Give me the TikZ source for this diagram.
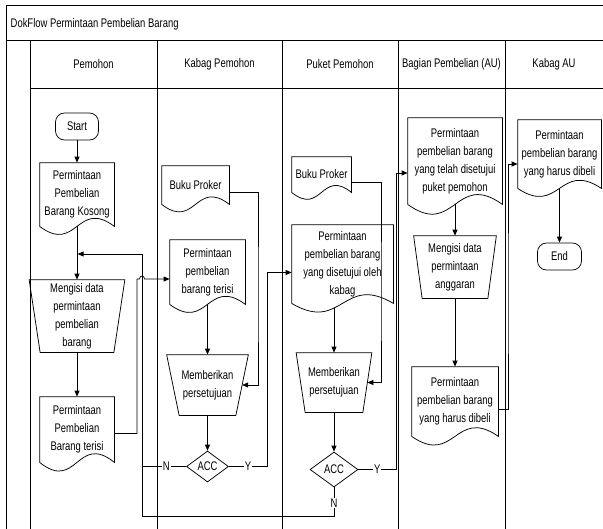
\documentclass[tikz,border=0pt]{standalone}
\usepackage{fontspec}
\setmainfont{Liberation Sans}[FakeStretch=0.755]
\usetikzlibrary{arrows.meta,shapes.geometric,calc}
\newcommand\docbox[7]{%
  \node[doctext, minimum width={#4-#2}, minimum height={#5-#3}] (#1) at ({(#2+#4)/2},{(#3+#5)/2}) {#7};
  \draw[shapeline] (#1.south east) -- (#1.north east) -- (#1.north west) -- (#1.south west)
    .. controls ($(#1.south)+(0,#6)$) and ($(#1.south)+(0,-#6)$) .. (#1.south east) -- cycle;}
\newcommand\mantz[7]{%
  \node[doctext, minimum width={#4}, minimum height={#6-#3}] (#1) at (#2,{(#3+#6)/2}) {#7};
  \draw[shapeline] (#1.north west) -- (#1.north east) -- ([xshift={-(#4-#5)/2}]#1.south east)
    -- ([xshift={(#4-#5)/2}]#1.south west) -- cycle;
  \coordinate (#1-r) at ([xshift={-(#4-#5)/4}]#1.east);}
\begin{document}
\begin{tikzpicture}[x=1pt,y=-1pt, line width=0.75pt,
  font=\fontsize{12.5}{18}\selectfont,
  shapeline/.style={line width=0.75pt},
  arr/.style={-{Triangle[length=6pt,width=5pt]}},
  doctext/.style={inner sep=0pt, align=center},
  term/.style={draw, rounded corners=9pt, inner sep=0pt},
  dec/.style={draw, diamond, inner sep=0pt},
  lbl/.style={fill=white, inner sep=1pt}]
\useasboundingbox (0,0) rectangle (603,528);
% frame
\draw (6,530) -- (6,5) -- (605,5);
\draw (6,40) -- (605,40);
\draw (30,88) -- (605,88);
\foreach \x in {30,157,282,398,505} \draw (\x,40) -- (\x,530);
\node[anchor=west] (title) at (7,24) {DokFlow Permintaan Pembelian Barang};
\node (h1) at (93.5,64) {Pemohon};
\node (h2) at (219.5,64) {Kabag Pemohon};
\node (h3) at (340,64) {Puket Pemohon};
\node (h4) at (451.5,64) {Bagian Pembelian (AU)};
\node (h5) at (554,64) {Kabag AU};
% Pemohon
\node[term, minimum width=43, minimum height=27] (start) at (77,126.5) {Start};
\docbox{kosong}{40}{163}{114}{226}{28}{Permintaan\\Pembelian\\Barang Kosong}
\mantz{mengisi}{77}{280}{95}{73}{352}{Mengisi data\\permintaan\\pembelian\\barang}
\docbox{pterisi}{40}{397}{114}{462}{30}{Permintaan\\Pembelian\\Barang terisi}
% Kabag Pemohon
\docbox{kbuku}{162}{166}{229}{204}{26}{Buku Proker}
\docbox{kterisi}{170}{240}{245}{304}{28}{Permintaan\\pembelian\\barang terisi}
\mantz{ktz}{207.5}{355}{81}{56}{415}{Memberikan\\persetujuan}
\node[dec, minimum width=42, minimum height=31] (kacc) at (207.5,466.5) {ACC};
% Puket Pemohon
\docbox{pbuku}{292}{157}{351}{192}{24}{Buku Proker}
\docbox{pdoc}{292}{225}{393}{303}{30}{Permintaan\\pembelian barang\\yang disetujui oleh\\kabag}
\mantz{ptz}{334}{353}{75}{57}{412}{Memberikan\\persetujuan}
\node[dec, minimum width=48, minimum height=35] (pacc) at (334,469.5) {ACC};
% Bagian Pembelian
\docbox{bdoc1}{408}{118}{502}{204}{34}{Permintaan\\pembelian barang\\yang telah disetujui\\puket pemohon}
\mantz{btz}{455}{236}{82}{65}{298}{Mengisi data\\permintaan\\anggaran}
\docbox{bdoc2}{412}{367}{498}{436}{30}{Permintaan\\pembelian barang\\yang harus dibeli}
% Kabag AU
\docbox{audoc}{518}{120}{601}{188}{28}{Permintaan\\pembelian barang\\yang harus dibeli}
\node[term, minimum width=44, minimum height=27] (end) at (559.5,256.5) {End};
% connectors
\coordinate (m1) at (77,254);
\coordinate (j1) at (137,279);
\draw[arr] (start.south) -- (kosong.north);
\draw[arr] (kosong.south) -- (mengisi.north);
\draw[arr] (mengisi.south) -- (pterisi.north);
\draw[arr] ([yshift=-4pt]pterisi.east) -| (j1) -- (139.5,279) .. controls (139.5,275) and (144.5,275) .. (144.5,279) -- (kterisi.west |- j1);
\draw[arr] (pacc.south) -- node[lbl, pos=0.55]{N} (334,516) -| (142,254) -- ([xshift=0.6pt]m1);
\draw (kacc.west) -- node[lbl, pos=0.45]{N} (142,466.5);
\draw[arr] (kacc.east) -- node[lbl]{Y} (267,466.5) |- ([yshift=-8.5pt]pdoc.west);
\draw[arr] ([yshift=-7pt]kbuku.east) -| (258,300) |- (ktz-r);
\draw[arr] (kterisi.south) -- (ktz.north);
\draw[arr] (ktz.south) -- (kacc.north);
\draw[arr] ([yshift=-7.5pt]pbuku.east) -| (381,300) |- (ptz-r);
\draw[arr] ([xshift=-8.5pt,yshift=-5pt]pdoc.south) -- (ptz.north);
\draw[arr] (ptz.south) -- (pacc.north);
\draw[arr] (pacc.east) -- node[lbl]{Y} (396,469.5) |- ([yshift=-12pt]bdoc1.west);
\draw[arr] (bdoc1.south) -- (bdoc1.south |- btz.north);
\draw[arr] (btz.south) -- (bdoc2.north);
\draw[arr] ([yshift=-7.5pt]bdoc2.east) -| (508,300) |- ([yshift=-10pt]audoc.west);
\draw[arr] (audoc.south) -- (end.north);
\end{tikzpicture}
\end{document}
